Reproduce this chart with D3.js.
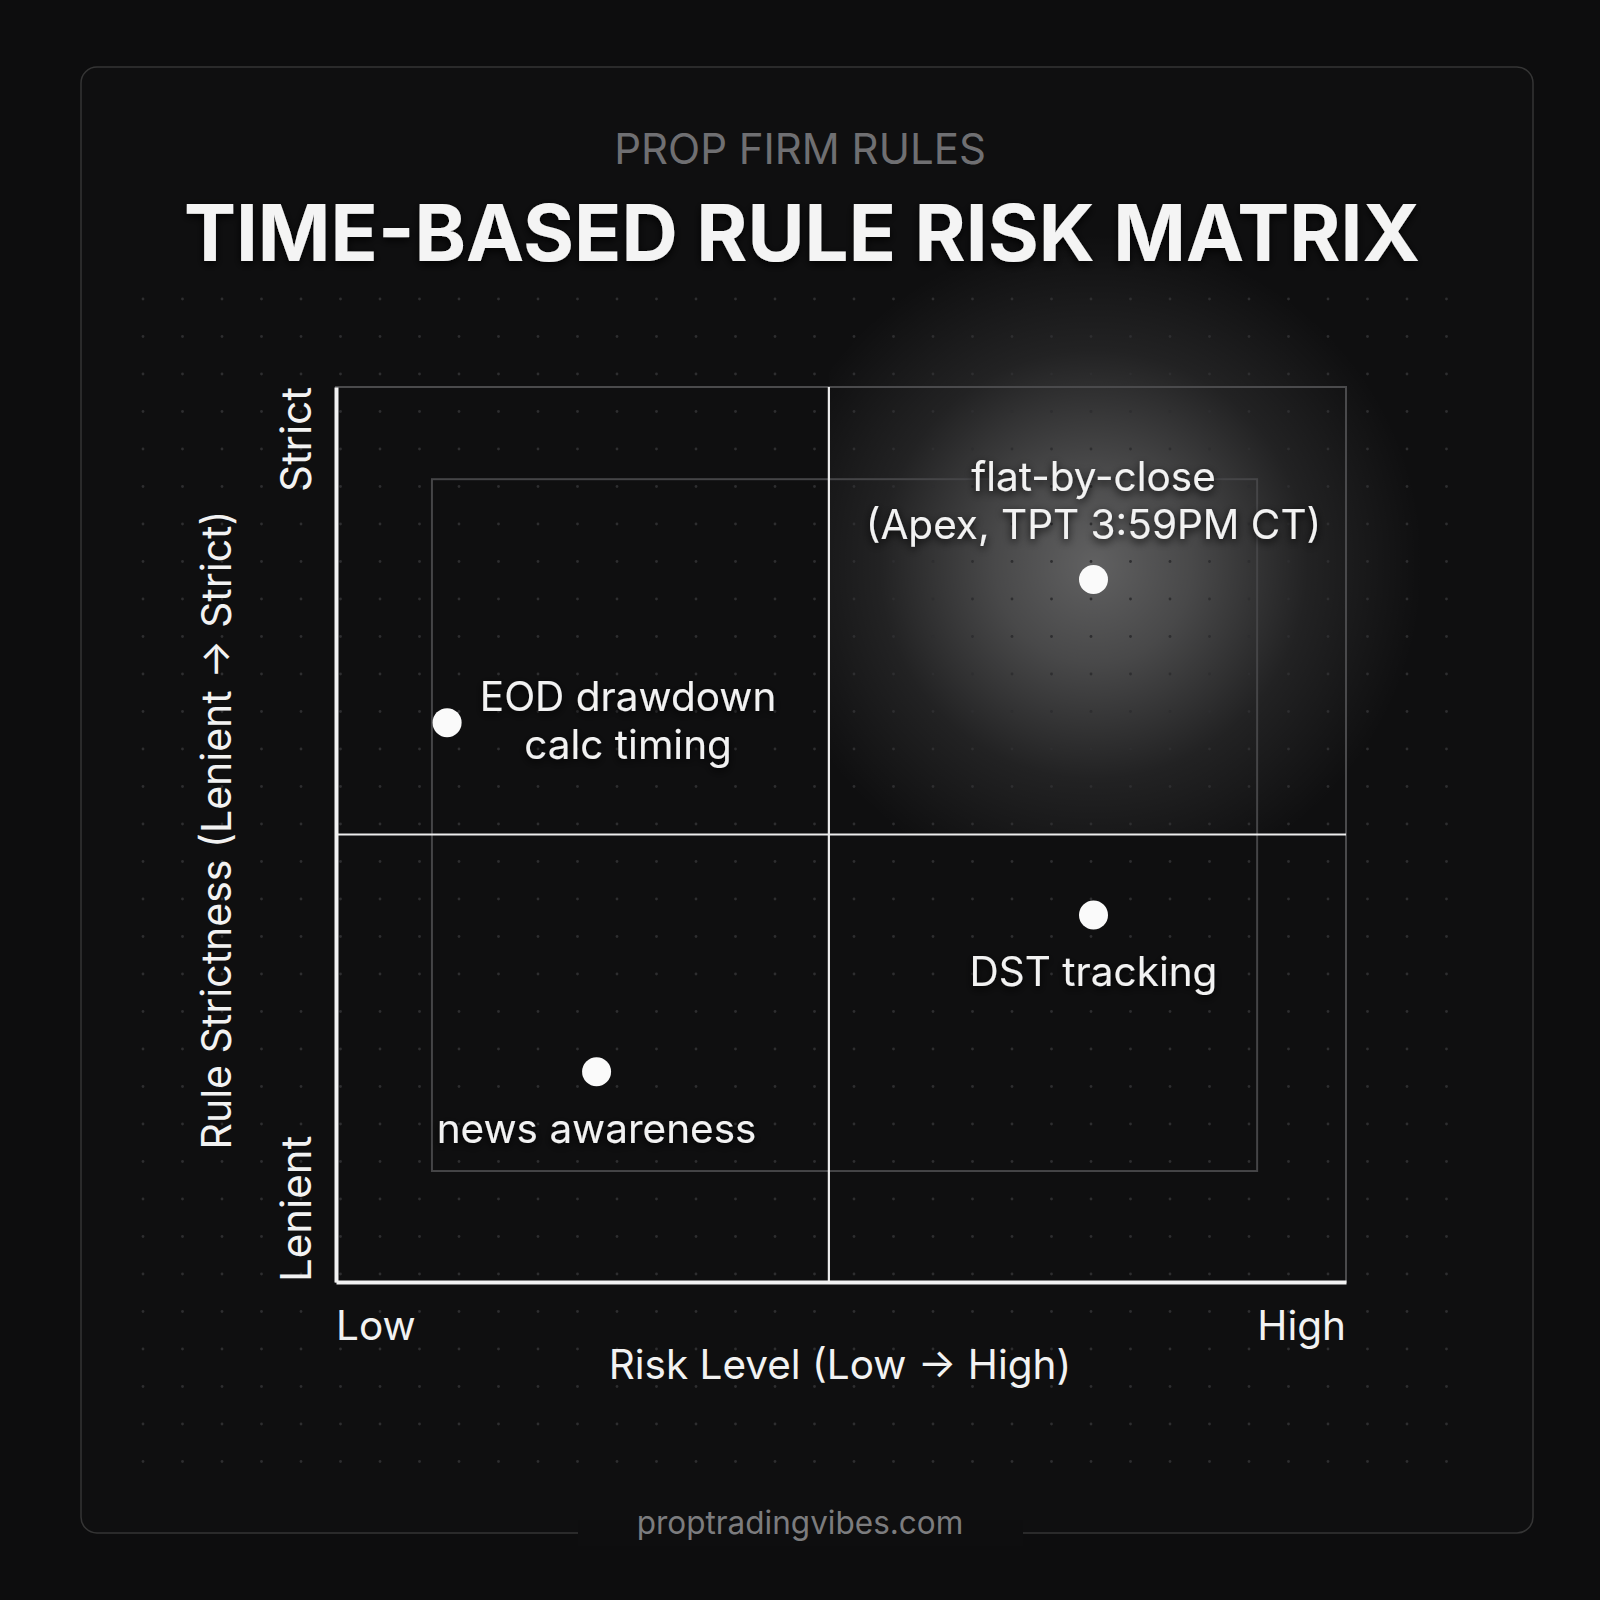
<!DOCTYPE html>
<html><head><meta charset="utf-8">
<script src="https://cdn.jsdelivr.net/npm/d3@7"></script>
<style>
html,body{margin:0;padding:0;background:#0d0d0e;}
svg{display:block;}
text{font-family:Inter,"Noto Sans",sans-serif;}
</style></head>
<body>
<script>
// ---- data ----
const ruleNames = ["flat-by-close", "EOD drawdown", "DST tracking", "news awareness"];
const ruleLabels = [["flat-by-close","(Apex, TPT 3:59PM CT)"],["EOD drawdown","calc timing"],["DST tracking"],["news awareness"]];
const riskValues = [7.5, 1.1, 7.5, 2.58];
const strictnessValues = [7.85, 6.25, 4.1, 2.35];
const labelPlacement = ["above", "right", "below", "below"];
const xTickLabels = ["Low", "High"];
const yTickLabels = ["Lenient", "Strict"];
const quadrantDivider = {x: 4.88, y: 5.0};
const focusZone = {x0: 0.95, x1: 9.12, y0: 1.24, y1: 8.97};

const W = 1600, H = 1600;
const svg = d3.select("body").append("svg").attr("width", W).attr("height", H);
const defs = svg.append("defs");

const x = d3.scaleLinear().domain([0, 10]).range([336, 1346]);
const y = d3.scaleLinear().domain([0, 10]).range([1282, 387]);

const glow = defs.append("radialGradient").attr("id", "glow");
glow.append("stop").attr("offset", "0%").attr("stop-color", "#fff").attr("stop-opacity", 0.34);
glow.append("stop").attr("offset", "30%").attr("stop-color", "#fff").attr("stop-opacity", 0.24);
glow.append("stop").attr("offset", "65%").attr("stop-color", "#fff").attr("stop-opacity", 0.08);
glow.append("stop").attr("offset", "100%").attr("stop-color", "#fff").attr("stop-opacity", 0);
defs.append("clipPath").attr("id", "glowclip").append("rect")
  .attr("x", x(quadrantDivider.x)).attr("y", 0).attr("width", 800).attr("height", y(quadrantDivider.y));

const shadow = defs.append("filter").attr("id", "tshadow").attr("x", "-10%").attr("y", "-30%").attr("width", "120%").attr("height", "160%");
shadow.append("feDropShadow").attr("dx", 0).attr("dy", 3).attr("stdDeviation", 4).attr("flood-color", "#000").attr("flood-opacity", 0.9);

svg.append("rect").attr("width", W).attr("height", H).attr("fill", "#0d0d0e");
// card
svg.append("rect").attr("x", 81).attr("y", 67).attr("width", 1452).attr("height", 1466)
  .attr("rx", 16).attr("fill", "#0f0f10").attr("stroke", "#353535").attr("stroke-width", 1.5);

// glow on focus rule (behind grid dots)
svg.append("circle").attr("clip-path", "url(#glowclip)")
  .attr("cx", x(riskValues[0])).attr("cy", y(strictnessValues[0]) - 15).attr("r", 330).attr("fill", "url(#glow)");

// dot grid
const dotsG = svg.append("g");
const dxs = d3.range(143, 1470, 39.5), dys = d3.range(299, 1470, 37.5);
dys.forEach(yy => dxs.forEach(xx => dotsG.append("circle").attr("cx", xx).attr("cy", yy).attr("r", 1.4).attr("fill", "#2e2e30")));

// footer gap over card border
svg.append("rect").attr("x", 578).attr("y", 1520).attr("width", 445).attr("height", 26).attr("fill", "#0e0e0f");

// titles
svg.append("text").attr("x", 800).attr("y", 164).attr("text-anchor", "middle")
  .attr("font-size", 42).attr("fill", "#6f6f72").text("PROP FIRM RULES");
svg.append("text").attr("x", 802).attr("y", 261).attr("text-anchor", "middle")
  .attr("font-size", 78).attr("font-weight", 700).attr("fill", "#f4f4f4").attr("filter", "url(#tshadow)")
  .text("TIME-BASED RULE RISK MATRIX");
svg.append("text").attr("x", 800).attr("y", 1534).attr("text-anchor", "middle")
  .attr("font-size", 31.5).attr("fill", "#7c7c7e").text("proptradingvibes.com");

// plot frame
svg.append("rect").attr("x", x(0)).attr("y", y(10)).attr("width", x(10) - x(0)).attr("height", y(0) - y(10))
  .attr("fill", "none").attr("stroke", "#4a4a4c").attr("stroke-width", 2);
// focus zone rectangle
svg.append("rect").attr("x", x(focusZone.x0)).attr("y", y(focusZone.y1))
  .attr("width", x(focusZone.x1) - x(focusZone.x0)).attr("height", y(focusZone.y0) - y(focusZone.y1))
  .attr("fill", "none").attr("stroke", "#454547").attr("stroke-width", 2);
// quadrant dividers
svg.append("line").attr("x1", x(quadrantDivider.x)).attr("x2", x(quadrantDivider.x)).attr("y1", y(10)).attr("y2", y(0))
  .attr("stroke", "#ededed").attr("stroke-width", 2.2);
svg.append("line").attr("x1", x(0)).attr("x2", x(10)).attr("y1", y(quadrantDivider.y)).attr("y2", y(quadrantDivider.y))
  .attr("stroke", "#ededed").attr("stroke-width", 2.2);

// axes (main lines)
const xAxis = svg.append("g").attr("transform", `translate(0,${y(0)})`)
  .call(d3.axisBottom(x).tickValues([]).tickSizeOuter(0));
xAxis.select(".domain").attr("stroke", "#f2f2f2").attr("stroke-width", 4);
const yAxis = svg.append("g").attr("transform", `translate(${x(0)},0)`)
  .call(d3.axisLeft(y).tickValues([]).tickSizeOuter(0));
yAxis.select(".domain").attr("stroke", "#f2f2f2").attr("stroke-width", 4);

// tick-end labels
svg.append("text").attr("x", x(0)).attr("y", 1340).attr("font-size", 40.5).attr("fill", "#f2f2f2").text(xTickLabels[0]);
svg.append("text").attr("x", x(10)).attr("y", 1340).attr("text-anchor", "end").attr("font-size", 40.5).attr("fill", "#f2f2f2").text(xTickLabels[1]);
svg.append("text").attr("transform", `translate(311,${y(0)}) rotate(-90)`).attr("font-size", 42).attr("fill", "#f2f2f2").text(yTickLabels[0]);
svg.append("text").attr("transform", `translate(311,${y(10)}) rotate(-90)`).attr("text-anchor", "end").attr("font-size", 42).attr("fill", "#f2f2f2").text(yTickLabels[1]);

// axis titles
svg.append("text").attr("x", 840).attr("y", 1379).attr("text-anchor", "middle").attr("font-size", 40.5).attr("fill", "#f2f2f2")
  .text("Risk Level (Low → High)");
svg.append("text").attr("transform", `translate(231,830) rotate(-90)`).attr("text-anchor", "middle").attr("font-size", 41).attr("fill", "#f2f2f2")
  .text("Rule Strictness (Lenient → Strict)");

// points
const pts = svg.append("g");
ruleNames.forEach((n, i) => {
  const cx = x(riskValues[i]), cy = y(strictnessValues[i]);
  pts.append("circle").attr("cx", cx).attr("cy", cy).attr("r", 14.5).attr("fill", "#fafafa");
  const lines = ruleLabels[i];
  const t = pts.append("text").attr("font-size", 40.5).attr("fill", "#f2f2f2").attr("text-anchor", "middle").attr("filter", "url(#tshadow)");
  let lx, ly0;
  if (labelPlacement[i] === "above") { lx = cx; ly0 = cy - 102 + 14; }
  else if (labelPlacement[i] === "right") { lx = cx + 181; ly0 = cy - 26 + 14; }
  else { lx = cx; ly0 = cy + 57 + 14; }
  lines.forEach((s, k) => t.append("tspan").attr("x", lx).attr("y", ly0 + k * 48).text(s));
});
</script>
</body></html>
